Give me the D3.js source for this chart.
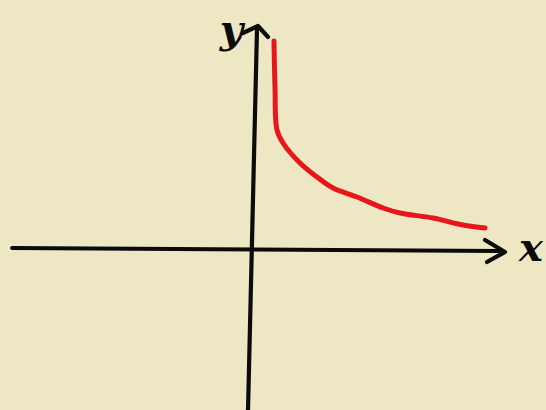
<!DOCTYPE html>
<html>
<head>
<meta charset="utf-8">
<script src="https://cdn.jsdelivr.net/npm/d3@7"></script>
<style>
  html, body { margin: 0; padding: 0; background: #ede7c4; overflow: hidden; }
  svg { display: block; }
</style>
</head>
<body>
<svg id="chart" width="546" height="410"></svg>
<script>
// Sketch of y = 1/x for x > 0, drawn freehand
const curveX = [0.575, 0.6, 0.65, 0.8, 1.225, 1.65, 2.05, 2.65, 3.3, 3.725, 4.55, 5.3, 5.85];
const curveY = [5.2, 4.05, 2.975, 2.65, 2.15, 1.8, 1.525, 1.3, 1.025, 0.9, 0.775, 0.6, 0.525];

// Hand-drawn axes (slightly tilted strokes)
const xAxisLine = [[-5.97, 0.025], [6.2, -0.05]];
const xArrow = [[5.85, 0.225], [6.35, -0.075], [5.9, -0.325]];
const yAxisLine = [[-0.075, -4.05], [0.15, 5.5]];
const yArrow = [[-0.2, 5.4], [0.175, 5.575], [0.425, 5.3]];

const axisLabels = [
  { text: "y", x: -0.2, y: 5.15, anchor: "end" },
  { text: "x", x: 6.7, y: -0.3, anchor: "start" }
];

const svg = d3.select("#chart");
const x = d3.scaleLinear().domain([-6, 6]).range([11, 491]);
const y = d3.scaleLinear().domain([-4, 5.5]).range([409, 29]);

const line = d3.line().x(d => x(d[0])).y(d => y(d[1]));

svg.append("rect").attr("width", 546).attr("height", 410).attr("fill", "#ede7c4");

const axisG = svg.append("g")
  .attr("fill", "none")
  .attr("stroke", "#0b0b0b")
  .attr("stroke-width", 4.2)
  .attr("stroke-linecap", "round")
  .attr("stroke-linejoin", "round");

[xAxisLine, xArrow, yAxisLine, yArrow].forEach(pts => {
  axisG.append("path").attr("d", line(pts));
});

const pts = curveX.map((v, i) => [v, curveY[i]]);
svg.append("path")
  .attr("d", d3.line().x(d => x(d[0])).y(d => y(d[1])).curve(d3.curveCatmullRom)(pts))
  .attr("fill", "none")
  .attr("stroke", "#e8161b")
  .attr("stroke-width", 5)
  .attr("stroke-linecap", "round")
  .attr("stroke-linejoin", "round");

svg.selectAll("text.lbl").data(axisLabels).join("text")
  .attr("class", "lbl")
  .attr("x", d => x(d.x))
  .attr("y", d => y(d.y))
  .attr("text-anchor", d => d.anchor)
  .attr("font-family", "DejaVu Serif")
  .attr("font-style", "italic")
  .attr("font-weight", "bold")
  .attr("font-size", 40)
  .attr("fill", "#0b0b0b")
  .text(d => d.text);
</script>
</body>
</html>
